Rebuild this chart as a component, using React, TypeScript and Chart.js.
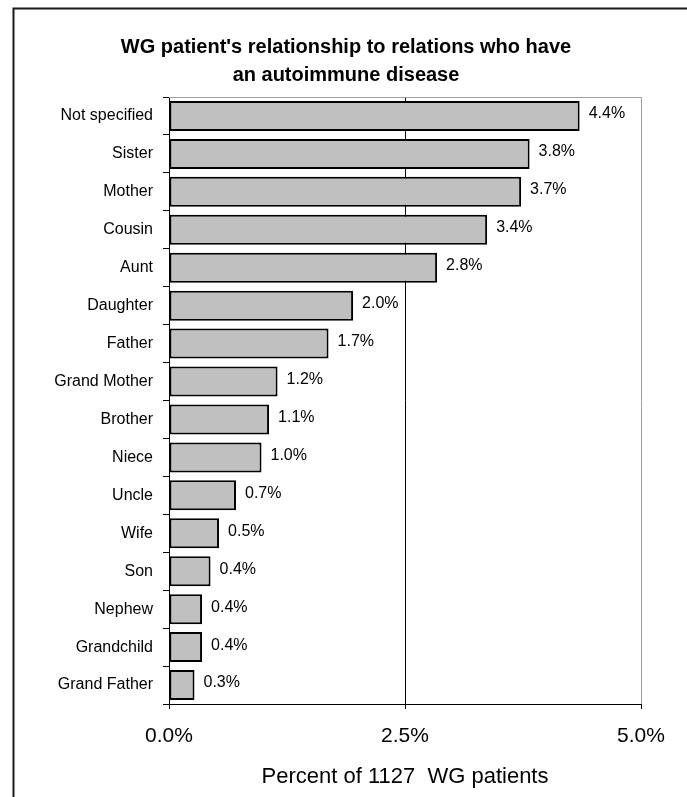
import React, { useEffect, useRef } from "react";
import { Chart, registerables } from "chart.js";

Chart.register(...registerables);

const categories = [
  "Not specified",
  "Sister",
  "Mother",
  "Cousin",
  "Aunt",
  "Daughter",
  "Father",
  "Grand Mother",
  "Brother",
  "Niece",
  "Uncle",
  "Wife",
  "Son",
  "Nephew",
  "Grandchild",
  "Grand Father",
];

const percentValues = [4.35, 3.82, 3.73, 3.37, 2.84, 1.95, 1.69, 1.15, 1.06, 0.98, 0.71, 0.53, 0.44, 0.35, 0.35, 0.27];

const valueLabels = ["4.4%", "3.8%", "3.7%", "3.4%", "2.8%", "2.0%", "1.7%", "1.2%", "1.1%", "1.0%", "0.7%", "0.5%", "0.4%", "0.4%", "0.4%", "0.3%"];

const xTickValues = [0, 2.5, 5];

const titleLines = ["WG patient's relationship to relations who have", "an autoimmune disease"];
const xAxisTitle = "Percent of 1127  WG patients";

const FONT = "'Liberation Sans', Arial, sans-serif";

export default function App() {
  const canvasRef = useRef<HTMLCanvasElement | null>(null);

  useEffect(() => {
    const canvas = canvasRef.current;
    if (!canvas) return;

    const framePlugin = {
      id: "frameAndTitle",
      beforeDraw(chart: any) {
        const ctx = chart.ctx;
        ctx.save();
        ctx.fillStyle = "#ffffff";
        ctx.fillRect(0, 0, chart.width, chart.height);
        ctx.strokeStyle = "#1a1a1a";
        ctx.lineWidth = 2;
        ctx.beginPath();
        ctx.moveTo(13.5, chart.height);
        ctx.lineTo(13.5, 8.5);
        ctx.lineTo(chart.width, 8.5);
        ctx.stroke();
        // title
        ctx.fillStyle = "#000";
        ctx.font = `bold 20px ${FONT}`;
        ctx.textAlign = "center";
        ctx.textBaseline = "middle";
        ctx.fillText(titleLines[0], 346, 47);
        ctx.fillText(titleLines[1], 346, 75);
        ctx.restore();
      },
      beforeDatasetsDraw(chart: any) {
        const { ctx, chartArea } = chart;
        ctx.save();
        ctx.strokeStyle = "#a0a0a0";
        ctx.lineWidth = 1;
        ctx.beginPath();
        ctx.moveTo(chartArea.left, Math.round(chartArea.top) + 0.5);
        ctx.lineTo(chartArea.right, Math.round(chartArea.top) + 0.5);
        ctx.stroke();
        ctx.restore();
      },
      afterDatasetsDraw(chart: any) {
        const ctx = chart.ctx;
        const meta = chart.getDatasetMeta(0);
        ctx.save();
        ctx.fillStyle = "#000";
        ctx.font = `16px ${FONT}`;
        ctx.textAlign = "left";
        ctx.textBaseline = "middle";
        meta.data.forEach((bar: any, i: number) => {
          ctx.fillText(valueLabels[i], bar.x + 9, bar.y - 2);
        });
        ctx.restore();
      },
    };

    const chart = new Chart(canvas, {
      type: "bar",
      data: {
        labels: categories,
        datasets: [
          {
            data: percentValues,
            backgroundColor: "#c0c0c0",
            borderColor: "#000000",
            borderWidth: 2,
            borderSkipped: false,
            barPercentage: 0.79,
            categoryPercentage: 1,
          },
        ],
      },
      options: {
        indexAxis: "y",
        animation: false,
        responsive: false,
        devicePixelRatio: 1,
        layout: { padding: { left: 14, right: 46, top: 97, bottom: 0 } },
        plugins: {
          legend: { display: false },
          title: { display: false },
          tooltip: { enabled: false },
        },
        scales: {
          x: {
            type: "linear",
            min: 0,
            max: 5,
            afterBuildTicks(scale: any) {
              scale.ticks = xTickValues.map((v) => ({ value: v }));
            },
            afterFit(scale: any) {
              scale.height = 93;
            },
            ticks: {
              font: { family: FONT, size: 21 },
              color: "#000",
              padding: 15,
              maxRotation: 0,
              callback: (v: any) => Number(v).toFixed(1) + "%",
            },
            grid: {
              display: true,
              drawOnChartArea: true,
              drawTicks: true,
              tickLength: 5,
              tickColor: "#000",
              lineWidth: 1,
              color: (ctx: any) => {
                const v = ctx.tick ? ctx.tick.value : null;
                if (v === 2.5) return "#000";
                if (v === 5) return "#a0a0a0";
                return "rgba(0,0,0,0)";
              },
            },
            border: { display: true, color: "#000", width: 1 },
            title: {
              display: true,
              text: xAxisTitle,
              font: { family: FONT, size: 22 },
              color: "#000",
              padding: { top: 0, bottom: 7 },
            },
          },
          y: {
            type: "category",
            afterFit(scale: any) {
              scale.width = 155;
            },
            ticks: {
              font: { family: FONT, size: 16 },
              color: "#000",
              padding: 10,
              autoSkip: false,
            },
            grid: {
              display: true,
              drawOnChartArea: false,
              drawTicks: true,
              tickLength: 6,
              tickColor: "#000",
              color: "#000",
              offset: true,
            },
            border: { display: true, color: "#000", width: 1 },
          },
        },
      },
      plugins: [framePlugin],
    } as any);

    return () => {
      chart.destroy();
    };
  }, []);

  return (
    <div style={{ position: "fixed", left: 0, top: 0, width: 687, height: 797, background: "#fff" }}>
      <canvas ref={canvasRef} width={687} height={797} style={{ display: "block" }} />
    </div>
  );
}
